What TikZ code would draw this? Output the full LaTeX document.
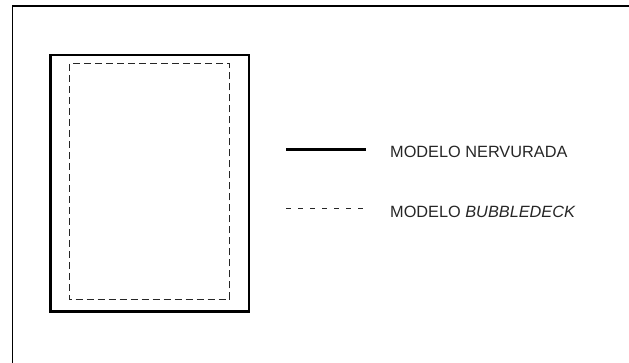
\documentclass[tikz,border=0pt]{standalone}
\usepackage{fontspec}
\setmainfont{Liberation Sans}
\usetikzlibrary{positioning}

\begin{document}
\begin{tikzpicture}[
  x=1pt,y=-1pt,
  nerv/.style={draw=black,line width=2.6pt},
  bubble/.style={draw=black!85,line width=1pt,dash pattern=on 7pt off 4pt},
  bubblekey/.style={draw=black!85,line width=1pt,dash pattern=on 5pt off 7pt},
  frame/.style={draw=black,line width=1.3pt},
  label/.style={anchor=base west,inner sep=0pt,
    font=\fontsize{16.3}{19}\selectfont,text=black!85}
]
  \useasboundingbox (0,0) rectangle (629,363);

  % sheet border, cut by the page on the right and at the bottom
  \draw[frame] (629,6) -- (12.3,6) -- (12.3,363);

  % slab outlines
  \draw[nerv] (50.5,55) rectangle (249,311.5);
  \draw[bubble] (69.5,64) rectangle (229,300);

  % legend
  \node[label] (nervtext) at (390,157.7) {MODELO NERVURADA};
  \node[label,below=60pt of nervtext.base west,anchor=base west] (bubbletext)
    {MODELO \textit{BUBBLEDECK}};

  \coordinate (nervkey) at (286,150);
  \coordinate (bubblekeyend) at (366,209);
  \draw[nerv,line width=3pt] (nervkey) -- (nervkey -| bubblekeyend);
  \draw[bubblekey] (nervkey |- bubblekeyend) -- (bubblekeyend);
\end{tikzpicture}
\end{document}
